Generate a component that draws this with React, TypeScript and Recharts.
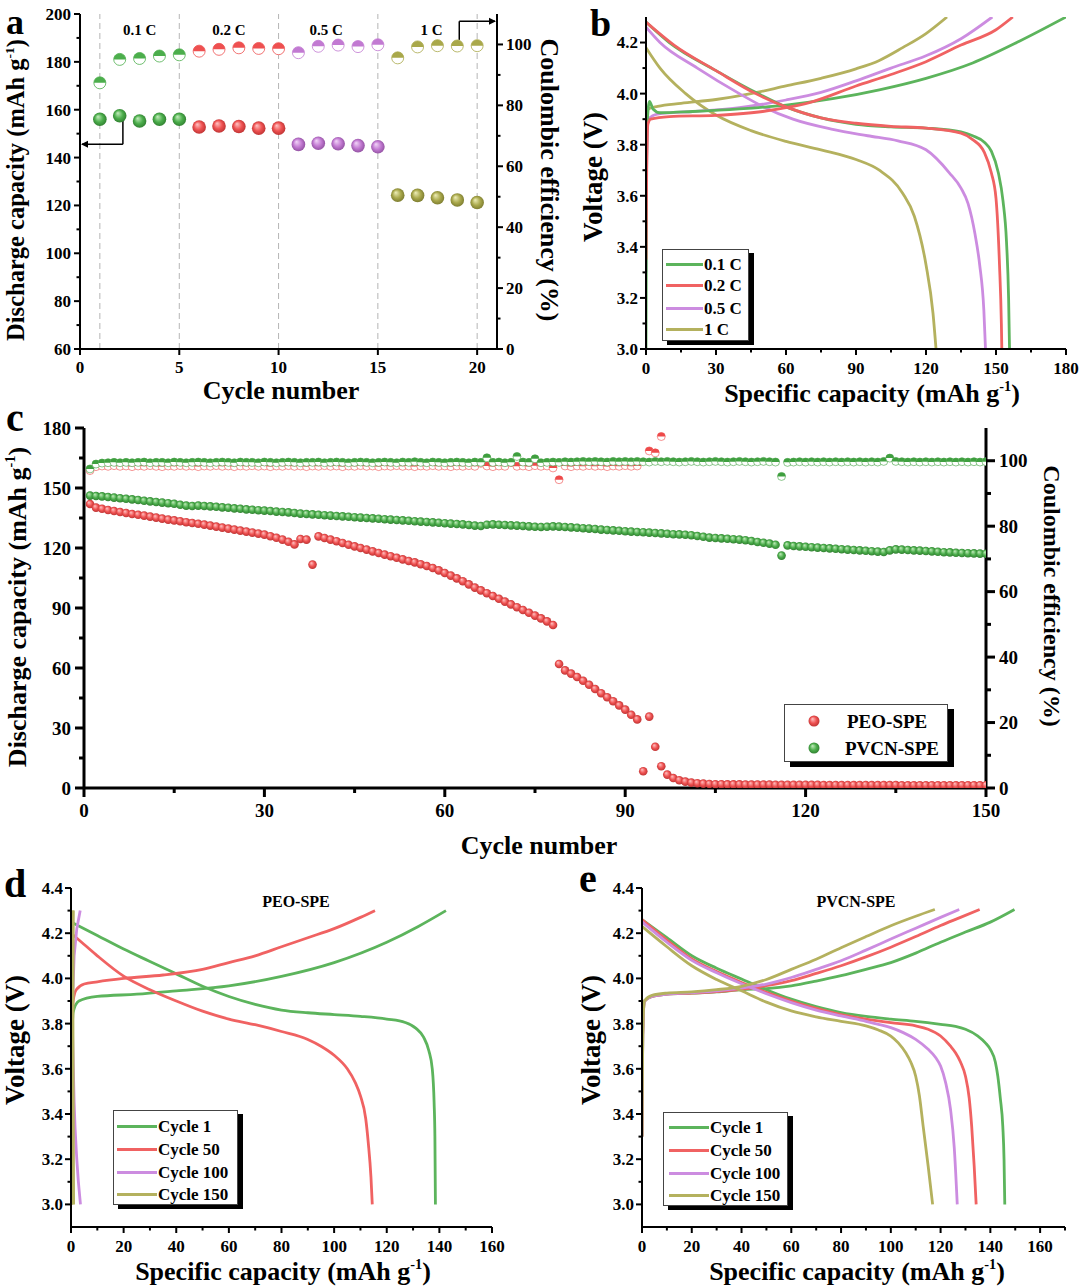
import React from 'react';
import { ScatterChart, LineChart, Line, Scatter, XAxis, YAxis, ReferenceLine, ReferenceDot } from 'recharts';

const FONT = "'Liberation Serif','Times New Roman',serif";

// ---------- Panel a data ----------
const A_CYCLES = [1, 2, 3, 4, 5, 6, 7, 8, 9, 10, 11, 12, 13, 14, 15, 16, 17, 18, 19, 20];
const A_CAP = [156, 157.5, 155.3, 156, 156, 152.8, 153.2, 153, 152.3, 152.3, 145.5, 146, 145.8, 145, 144.5, 124.3, 124.2, 123.2, 122.3, 121.2];
const A_CE = [87.4, 95.1, 95.4, 96.2, 96.6, 97.8, 98.4, 98.9, 98.7, 98.6, 97.3, 99.4, 99.8, 99.3, 99.9, 95.6, 99.2, 99.6, 99.5, 99.6];
const A_RATES = ['0.1 C', '0.2 C', '0.5 C', '1 C'];
const A_RATE_LABEL_X = [3, 7.5, 12.4, 17.7];
const A_DIVIDERS = [1, 5, 10, 15, 20];

// ---------- Panel b data (capacity, voltage) ----------
const B_LABELS = ['0.1 C', '0.2 C', '0.5 C', '1 C'];
const B_CHG_01 = [[0, 3.0], [0.2, 3.6], [0.5, 3.88], [1.5, 3.97], [3, 3.94], [6, 3.925], [20, 3.93], [40, 3.94], [60, 3.955], [80, 3.98], [100, 4.015], [120, 4.06], [140, 4.12], [160, 4.205], [180, 4.3]];
const B_DIS_01 = [[0, 4.28], [10, 4.2], [30, 4.09], [48, 4.0], [60, 3.948], [75, 3.905], [90, 3.88], [105, 3.87], [120, 3.865], [135, 3.85], [140, 3.835], [145, 3.81], [148, 3.775], [151, 3.69], [153, 3.58], [154.5, 3.42], [155.4, 3.2], [155.8, 3.0]];
const B_CHG_02 = [[0, 3.35], [0.3, 3.7], [0.8, 3.88], [2, 3.9], [10, 3.91], [30, 3.915], [50, 3.93], [60, 3.945], [70, 3.965], [90, 4.03], [105, 4.075], [120, 4.125], [135, 4.19], [150, 4.25], [157.2, 4.3]];
const B_DIS_02 = [[0, 4.28], [12, 4.19], [30, 4.09], [47, 4.0], [60, 3.948], [75, 3.905], [90, 3.884], [105, 3.872], [120, 3.865], [135, 3.845], [140, 3.82], [145, 3.77], [148, 3.69], [150, 3.59], [151.5, 3.33], [152.3, 3.1], [152.5, 3.0]];
const B_CHG_05 = [[0, 3.3], [0.3, 3.75], [1, 3.9], [5, 3.92], [20, 3.93], [40, 3.945], [60, 3.975], [75, 4.005], [90, 4.05], [105, 4.1], [120, 4.148], [135, 4.215], [148.4, 4.3]];
const B_DIS_05 = [[0, 4.26], [6, 4.2], [22, 4.1], [40, 4.0], [50, 3.95], [63, 3.9], [80, 3.86], [95, 3.835], [108, 3.815], [120, 3.78], [130, 3.69], [135, 3.63], [138, 3.57], [141, 3.45], [143, 3.33], [144.8, 3.15], [145.5, 3.0]];
const B_CHG_1 = [[0, 3.9], [1, 3.94], [5, 3.95], [15, 3.962], [30, 3.977], [45, 4.0], [60, 4.03], [75, 4.06], [90, 4.097], [100, 4.13], [110, 4.18], [120, 4.235], [129, 4.3]];
const B_DIS_1 = [[0, 4.18], [6, 4.1], [17, 4.0], [30, 3.916], [45, 3.855], [60, 3.813], [75, 3.78], [90, 3.742], [100, 3.7], [110, 3.61], [115, 3.52], [120, 3.33], [123, 3.14], [124.3, 3.0]];

// ---------- Panel c data (cycles 1..150) ----------
const C_PEO_CAP = [
  142.0, 140.2, 139.6, 139.0, 138.5, 138.0, 137.5, 137.0, 136.6, 136.2,
  135.7, 135.2, 134.7, 134.2, 133.8, 133.4, 132.9, 132.5, 132.1, 131.7,
  131.2, 130.7, 130.2, 129.7, 129.2, 128.7, 128.2, 127.7, 127.2, 126.7,
  125.9, 125.1, 124.2, 123.1, 121.8, 124.5, 124.2, 111.7, 125.8, 125.0,
  124.2, 123.4, 122.5, 121.6, 120.8, 120.0, 119.2, 118.3, 117.5, 116.7,
  115.9, 115.1, 114.3, 113.5, 112.8, 111.9, 111.0, 110.0, 108.8, 107.5,
  106.2, 104.8, 103.4, 101.8, 100.2, 98.8, 97.4, 96.0, 94.6, 93.2,
  91.8, 90.4, 89.0, 87.6, 86.2, 84.8, 83.3, 81.5, 62.0, 58.8,
  57.2, 55.5, 53.6, 51.6, 49.5, 47.4, 45.4, 43.4, 41.3, 39.2,
  36.6, 34.3, 8.4, 35.7, 20.6, 10.9, 6.7, 5.0, 3.9, 3.2,
  2.7, 2.4, 2.2, 2.0, 1.9, 1.9, 1.8, 1.8, 1.8, 1.7,
  1.7, 1.7, 1.7, 1.7, 1.6, 1.6, 1.6, 1.6, 1.6, 1.6,
  1.6, 1.6, 1.5, 1.5, 1.5, 1.5, 1.5, 1.5, 1.5, 1.5,
  1.5, 1.5, 1.5, 1.5, 1.5, 1.4, 1.4, 1.4, 1.4, 1.4,
  1.4, 1.4, 1.4, 1.4, 1.4, 1.4, 1.4, 1.4, 1.4, 1.4,
];
const C_PVCN_CAP = [
  146.2, 146.0, 145.8, 145.5, 145.2, 144.9, 144.6, 144.3, 144.0, 143.6,
  143.3, 143.0, 142.7, 142.4, 142.1, 141.6, 141.2, 141.0, 141.2, 141.0,
  140.8, 140.6, 140.3, 140.1, 139.8, 139.6, 139.3, 139.1, 138.9, 138.7,
  138.5, 138.2, 138.0, 137.8, 137.5, 137.2, 137.0, 136.8, 136.6, 136.4,
  136.2, 136.0, 135.8, 135.6, 135.4, 135.2, 135.0, 134.8, 134.6, 134.4,
  134.2, 134.0, 133.8, 133.6, 133.4, 133.2, 133.0, 132.8, 132.6, 132.4,
  132.2, 132.0, 131.8, 131.5, 131.2, 131.0, 131.6, 131.8, 131.6, 131.5,
  131.3, 131.2, 131.0, 130.8, 130.6, 130.5, 130.6, 130.8, 130.7, 130.5,
  130.3, 130.1, 129.9, 129.7, 129.5, 129.2, 129.0, 128.8, 128.6, 128.4,
  128.2, 128.0, 127.9, 127.7, 127.5, 127.3, 127.1, 126.9, 126.8, 126.6,
  126.4, 126.0, 125.6, 125.2, 125.0, 124.8, 124.6, 124.4, 124.2, 123.9,
  123.5, 123.0, 122.6, 122.2, 121.6, 116.2, 121.3, 121.0, 120.8, 120.6,
  120.4, 120.2, 120.0, 119.8, 119.6, 119.4, 119.2, 119.0, 118.8, 118.6,
  118.4, 118.2, 118.0, 118.8, 119.3, 119.2, 119.0, 118.8, 118.7, 118.5,
  118.3, 118.1, 117.9, 117.8, 117.6, 117.5, 117.4, 117.3, 117.2, 117.1,
];
const C_PVCN_CE = [
  97.5, 99.0, 99.3, 99.4, 99.5, 99.4, 99.5, 99.4, 99.5, 99.6,
  99.4, 99.5, 99.5, 99.4, 99.6, 99.5, 99.4, 99.5, 99.6, 99.5,
  99.4, 99.5, 99.6, 99.5, 99.4, 99.6, 99.5, 99.5, 99.4, 99.6,
  99.5, 99.4, 99.5, 99.6, 99.5, 99.4, 99.5, 99.5, 99.6, 99.4,
  99.5, 99.6, 99.5, 99.4, 99.5, 99.6, 99.5, 99.4, 99.5, 99.6,
  99.5, 99.4, 99.6, 99.5, 99.7, 99.5, 99.4, 99.6, 99.5, 99.4,
  99.5, 99.6, 99.5, 99.4, 99.6, 99.5, 100.9, 99.5, 99.6, 99.4,
  99.5, 101.3, 99.6, 99.5, 100.6, 99.4, 99.5, 99.6, 99.5, 99.7,
  99.6, 99.7, 99.8, 99.7, 99.8, 99.7, 99.6, 99.8, 99.7, 99.8,
  99.7, 99.8, 99.7, 99.6, 99.8, 99.7, 99.8, 99.7, 99.6, 99.7,
  99.8, 99.7, 99.6, 99.7, 99.8, 99.7, 99.6, 99.7, 99.8, 99.7,
  99.6, 99.7, 99.8, 99.7, 99.6, 95.2, 99.5, 99.6, 99.7, 99.6,
  99.7, 99.6, 99.7, 99.6, 99.7, 99.6, 99.7, 99.6, 99.7, 99.6,
  99.7, 99.6, 99.8, 100.8, 99.8, 99.7, 99.6, 99.7, 99.6, 99.7,
  99.6, 99.7, 99.6, 99.7, 99.6, 99.7, 99.6, 99.7, 99.6, 99.7,
];
const C_PEO_CE: (number | null)[] = [
  97.0, 98.2, 98.4, 98.3, 98.5, 98.3, 98.4, 98.2, 98.4, 98.3,
  98.5, 98.3, 98.2, 98.4, 98.3, 98.5, 98.3, 98.4, 98.2, 98.4,
  98.3, 98.5, 98.3, 98.4, 98.2, 98.4, 98.3, 98.5, 98.3, 98.4,
  98.2, 98.4, 98.3, 98.5, 98.3, 98.4, 98.2, 98.4, 98.3, 98.5,
  98.3, 98.4, 98.2, 98.4, 98.3, 98.5, 98.3, 98.4, 98.2, 98.4,
  98.3, 98.5, 98.3, 98.4, 98.2, 98.4, 98.3, 98.5, 98.3, 98.4,
  98.2, 98.4, 98.3, 98.5, 98.3, 99.2, 98.4, 98.2, 98.4, 98.3,
  99.4, 98.3, 98.4, 98.2, 98.5, 98.3, 98.4, 97.8, 94.2, 98.4,
  98.2, 98.4, 98.3, 98.5, 98.3, 98.4, 98.2, 98.4, 98.3, 98.5,
  98.3, 98.4, null, 103.0, 102.4, 107.4,
];
const C_SERIES = ['PEO-SPE', 'PVCN-SPE'];

// ---------- Panel d / e data ----------
const CYCLE_LABELS = ['Cycle 1', 'Cycle 50', 'Cycle 100', 'Cycle 150'];
const D_CHG_1 = [[0, 3.0], [0.3, 3.6], [0.8, 3.85], [3, 3.9], [10, 3.92], [25, 3.93], [40, 3.945], [60, 3.967], [80, 4.009], [100, 4.07], [120, 4.16], [132, 4.23], [142.5, 4.3]];
const D_DIS_1 = [[0, 4.25], [10, 4.19], [20, 4.13], [30, 4.075], [40, 4.02], [50, 3.965], [60, 3.92], [70, 3.885], [80, 3.86], [90, 3.848], [100, 3.84], [110, 3.832], [120, 3.82], [127, 3.805], [131, 3.78], [134, 3.74], [136, 3.68], [137.3, 3.6], [138, 3.45], [138.3, 3.3], [138.5, 3.0]];
const D_CHG_50 = [[0, 3.0], [0.3, 3.7], [0.8, 3.9], [2, 3.95], [5, 3.975], [10, 3.985], [20, 4.0], [35, 4.015], [50, 4.04], [60, 4.07], [70, 4.1], [80, 4.14], [90, 4.18], [100, 4.22], [110, 4.27], [115.5, 4.3]];
const D_DIS_50 = [[0, 4.2], [5, 4.15], [10, 4.1], [20, 4.01], [30, 3.95], [40, 3.9], [50, 3.855], [60, 3.82], [70, 3.795], [80, 3.765], [90, 3.73], [95, 3.7], [100, 3.66], [105, 3.6], [108, 3.54], [110, 3.48], [112, 3.38], [113, 3.27], [114, 3.12], [114.5, 3.0]];
const D_CHG_100 = [[0, 3.4], [0.6, 3.9], [1.2, 4.1], [2.2, 4.22], [3.5, 4.3]];
const D_DIS_100 = [[0, 4.2], [0.5, 3.8], [1.2, 3.45], [2.2, 3.2], [3.6, 3.0]];
const D_CHG_150 = [[0.4, 3.0], [0.6, 3.8], [0.9, 4.3]];
const D_DIS_150 = [[0.6, 4.3], [0.8, 3.6], [1.0, 3.0]];

const E_CHG_1 = [[0, 3.3], [0.3, 3.75], [1, 3.9], [4, 3.92], [10, 3.93], [20, 3.935], [30, 3.94], [40, 3.95], [50, 3.955], [60, 3.967], [70, 3.988], [80, 4.012], [90, 4.04], [100, 4.07], [110, 4.112], [120, 4.16], [130, 4.205], [140, 4.249], [149.7, 4.305]];
const E_CHG_50 = [[0, 3.3], [0.3, 3.75], [1, 3.9], [4, 3.92], [10, 3.93], [20, 3.935], [30, 3.942], [40, 3.952], [50, 3.968], [60, 3.99], [70, 4.022], [80, 4.056], [90, 4.095], [100, 4.138], [110, 4.185], [120, 4.234], [128, 4.27], [135.7, 4.305]];
const E_CHG_100 = [[0, 3.3], [0.3, 3.75], [1, 3.9], [4, 3.92], [10, 3.93], [20, 3.937], [30, 3.945], [40, 3.957], [50, 3.975], [60, 4.004], [70, 4.04], [80, 4.078], [90, 4.125], [100, 4.174], [110, 4.222], [120, 4.27], [127.5, 4.305]];
const E_CHG_150 = [[0, 3.3], [0.3, 3.75], [1, 3.9], [4, 3.925], [10, 3.935], [20, 3.94], [30, 3.95], [40, 3.965], [50, 3.995], [60, 4.04], [70, 4.085], [80, 4.136], [90, 4.185], [100, 4.233], [110, 4.275], [117.7, 4.305]];
const E_DIS_1 = [[0, 4.26], [10, 4.18], [20, 4.1], [30, 4.045], [40, 3.997], [50, 3.95], [60, 3.908], [70, 3.875], [80, 3.849], [90, 3.832], [100, 3.82], [110, 3.81], [120, 3.797], [126, 3.788], [130, 3.775], [135, 3.745], [138, 3.715], [140, 3.686], [142, 3.63], [143, 3.567], [144, 3.47], [145, 3.345], [145.5, 3.2], [145.8, 3.0]];
const E_DIS_50 = [[0, 4.26], [10, 4.17], [20, 4.086], [30, 4.03], [40, 3.982], [50, 3.938], [60, 3.9], [70, 3.867], [80, 3.84], [90, 3.82], [100, 3.804], [110, 3.79], [115, 3.775], [120, 3.745], [124, 3.7], [126, 3.671], [128, 3.63], [130, 3.567], [131.5, 3.47], [132.5, 3.345], [133.5, 3.17], [134.3, 3.0]];
const E_DIS_100 = [[0, 4.25], [10, 4.16], [20, 4.08], [30, 4.025], [40, 3.976], [50, 3.932], [60, 3.893], [70, 3.86], [80, 3.834], [90, 3.81], [95, 3.797], [100, 3.782], [105, 3.76], [110, 3.73], [115, 3.686], [118, 3.65], [120, 3.612], [122, 3.54], [124, 3.42], [125.5, 3.25], [126.7, 3.0]];
const E_DIS_150 = [[0, 4.23], [10, 4.14], [20, 4.056], [30, 3.995], [40, 3.945], [50, 3.895], [60, 3.856], [70, 3.83], [80, 3.81], [90, 3.79], [95, 3.772], [100, 3.745], [103, 3.715], [106, 3.671], [108, 3.63], [110, 3.567], [111.5, 3.48], [113, 3.345], [115, 3.17], [116.8, 3.0]];

// ---------- styling ----------
const LINE_COLORS = ['#5cb45c', '#f06262', '#cc8ce0', '#b4b15e'];
const SPHERE: Record<string, [string, string, string]> = {
  green: ['#c4ecbd', '#4cae4c', '#2d7a2d'],
  red: ['#ffc4c4', '#ef5252', '#b83030'],
  purple: ['#f2d6f8', '#c27ad2', '#8d4d9c'],
  olive: ['#eeeeb8', '#aaa94c', '#77772c'],
};
const A_KEYS = ['green', 'red', 'purple', 'olive'];
const A_FLAT = ['#4cae4c', '#ee5050', '#c27ad2', '#a9a84a'];

const pts = (arr: number[][]) => arr.map(([x, y]) => ({ x, y }));
const range = (a: number, b: number, s: number) => {
  const out: number[] = [];
  for (let i = 0; a + i * s <= b + 1e-9; i++) out.push(Math.round((a + i * s) * 1000) / 1000);
  return out;
};

type Orient = 'left' | 'right' | 'bottom';
function makeTick(orient: Orient, majors: number[], fontSize: number, fmt: (v: number) => string, sw: number, majorLen: number, minorLen: number, gap: number) {
  return (props: any) => {
    const { x, y, payload } = props;
    const v = Number(payload.value);
    const isMajor = majors.some((m) => Math.abs(m - v) < 1e-6);
    const len = isMajor ? majorLen : minorLen;
    const st: React.CSSProperties = { fontFamily: FONT, fontWeight: 700, fontSize, fill: '#000' };
    if (orient === 'left')
      return (
        <g>
          <line x1={x - len} x2={x} y1={y} y2={y} stroke="#000" strokeWidth={sw} />
          {isMajor && <text x={x - majorLen - gap} y={y} dy="0.35em" textAnchor="end" style={st}>{fmt(v)}</text>}
        </g>
      );
    if (orient === 'right')
      return (
        <g>
          <line x1={x} x2={x + len} y1={y} y2={y} stroke="#000" strokeWidth={sw} />
          {isMajor && <text x={x + majorLen + gap} y={y} dy="0.35em" textAnchor="start" style={st}>{fmt(v)}</text>}
        </g>
      );
    return (
      <g>
        <line x1={x} x2={x} y1={y} y2={y + len} stroke="#000" strokeWidth={sw} />
        {isMajor && <text x={x} y={y + majorLen + gap} dy="0.75em" textAnchor="middle" style={st}>{fmt(v)}</text>}
      </g>
    );
  };
}

const sphereShape = (key: string, r: number) => (p: any) => {
  const { cx, cy } = p;
  if (cx == null || cy == null) return <g />;
  return <circle cx={cx} cy={cy} r={r} fill={`url(#sph-${key})`} />;
};
const halfShape = (color: string, r: number, sw = 0.8) => (p: any) => {
  const { cx, cy } = p;
  if (cx == null || cy == null) return <g />;
  return (
    <g>
      <circle cx={cx} cy={cy} r={r} fill="#fff" stroke={color} strokeWidth={sw} />
      <path d={`M${cx - r},${cy} A${r},${r} 0 0 1 ${cx + r},${cy} Z`} fill={color} />
    </g>
  );
};

const fmtInt = (v: number) => String(Math.round(v));
const fmt1 = (v: number) => v.toFixed(1);

const txt = (size: number): React.CSSProperties => ({
  position: 'absolute', fontFamily: FONT, fontWeight: 700, fontSize: size, lineHeight: 1, whiteSpace: 'nowrap', color: '#000',
});
const Sup = ({ children }: { children: React.ReactNode }) => (
  <span style={{ fontSize: '0.55em', verticalAlign: '0.75em' }}>{children}</span>
);
function Title({ x, y, size, rot = 0, children }: { x: number; y: number; size: number; rot?: number; children: React.ReactNode }) {
  return (
    <div style={{ ...txt(size), left: x, top: y, transform: `translate(-50%,-50%) rotate(${rot}deg)` }}>{children}</div>
  );
}
function Letter({ x, y, size = 40, children }: { x: number; y: number; size?: number; children: React.ReactNode }) {
  return <div style={{ ...txt(size), left: x, top: y }}>{children}</div>;
}

function Gradients() {
  return (
    <svg width={0} height={0} style={{ position: 'absolute', left: 0, top: 0 }}>
      <defs>
        {Object.entries(SPHERE).map(([k, [l, b, d]]) => (
          <radialGradient key={k} id={`sph-${k}`} cx="50%" cy="50%" r="55%" fx="35%" fy="30%">
            <stop offset="0%" stopColor={l} />
            <stop offset="55%" stopColor={b} />
            <stop offset="100%" stopColor={d} />
          </radialGradient>
        ))}
      </defs>
    </svg>
  );
}

const AX2 = { stroke: '#000', strokeWidth: 2 };
const AX3 = { stroke: '#000', strokeWidth: 3 };

function PanelA() {
  const tickB = makeTick('bottom', [0, 5, 10, 15, 20], 17, fmtInt, 2, 6, 3, 5);
  const tickL = makeTick('left', range(60, 200, 20), 17, fmtInt, 2, 6, 3.5, 3);
  const tickR = makeTick('right', range(0, 100, 20), 17, fmtInt, 2, 6, 3.5, 3);
  const arrowL = (p: any) => <polygon points={`${p.cx},${p.cy} ${p.cx + 7},${p.cy - 3.5} ${p.cx + 7},${p.cy + 3.5}`} fill="#000" />;
  const arrowR = (p: any) => <polygon points={`${p.cx},${p.cy} ${p.cx - 7},${p.cy - 3.5} ${p.cx - 7},${p.cy + 3.5}`} fill="#000" />;
  return (
    <div style={{ position: 'absolute', left: 0, top: 0 }}>
      <ScatterChart width={560} height={410} margin={{ top: 14, right: 23, bottom: 31, left: 0 }}>
        <XAxis xAxisId="b" type="number" dataKey="x" domain={[0, 21]} ticks={[0, 5, 10, 15, 20]} interval={0} tickSize={0} tickMargin={0} tickLine={false} axisLine={AX2} tick={tickB} height={30} allowDataOverflow />
        <XAxis xAxisId="t" orientation="top" type="number" dataKey="x" domain={[0, 21]} height={0} tick={false} tickLine={false} axisLine={AX2} />
        <YAxis yAxisId="l" type="number" dataKey="y" domain={[60, 200]} ticks={range(60, 200, 10)} interval={0} tickSize={0} tickMargin={0} tickLine={false} axisLine={AX2} tick={tickL} width={80} allowDataOverflow />
        <YAxis yAxisId="r" orientation="right" type="number" dataKey="y" domain={[0, 110]} ticks={range(0, 100, 10)} interval={0} tickSize={0} tickMargin={0} tickLine={false} axisLine={AX2} tick={tickR} width={40} allowDataOverflow />
        {A_DIVIDERS.map((d) => (
          <ReferenceLine key={d} xAxisId="b" yAxisId="l" x={d} stroke="#b5b5b5" strokeWidth={1} strokeDasharray="6 4" />
        ))}
        {A_RATES.map((r, i) => (
          <ReferenceDot key={r} xAxisId="b" yAxisId="l" x={A_RATE_LABEL_X[i]} y={193.3} r={0}
            shape={(p: any) => <text x={p.cx} y={p.cy} dy="0.35em" textAnchor="middle" style={{ fontFamily: FONT, fontWeight: 700, fontSize: 15 }}>{r}</text>} />
        ))}
        <ReferenceLine xAxisId="b" yAxisId="l" segment={[{ x: 2.16, y: 155.3 }, { x: 2.16, y: 145.6 }]} stroke="#000" strokeWidth={1.5} />
        <ReferenceLine xAxisId="b" yAxisId="l" segment={[{ x: 2.16, y: 145.6 }, { x: 0.1, y: 145.6 }]} stroke="#000" strokeWidth={1.5} />
        <ReferenceDot xAxisId="b" yAxisId="l" x={0.05} y={145.6} r={0} shape={arrowL} />
        <ReferenceLine xAxisId="b" yAxisId="r" segment={[{ x: 19.1, y: 101.5 }, { x: 19.1, y: 107.6 }]} stroke="#000" strokeWidth={1.5} />
        <ReferenceLine xAxisId="b" yAxisId="r" segment={[{ x: 19.1, y: 107.6 }, { x: 20.9, y: 107.6 }]} stroke="#000" strokeWidth={1.5} />
        <ReferenceDot xAxisId="b" yAxisId="r" x={20.95} y={107.6} r={0} shape={arrowR} />
        {A_RATES.map((r, gi) => (
          <Scatter key={'ce' + r} xAxisId="b" yAxisId="r" isAnimationActive={false}
            data={A_CYCLES.slice(gi * 5, gi * 5 + 5).map((c, i) => ({ x: c, y: A_CE[gi * 5 + i] }))}
            shape={halfShape(A_FLAT[gi], 6, 0.8)} />
        ))}
        {A_RATES.map((r, gi) => (
          <Scatter key={'cap' + r} xAxisId="b" yAxisId="l" isAnimationActive={false}
            data={A_CYCLES.slice(gi * 5, gi * 5 + 5).map((c, i) => ({ x: c, y: A_CAP[gi * 5 + i] }))}
            shape={sphereShape(A_KEYS[gi], 6.8)} />
        ))}
      </ScatterChart>
    </div>
  );
}

function VoltagePanel(props: {
  left: number; top: number; width: number; height: number; margin: any; yWidth: number;
  xMax: number; xTicks: number[]; xMajors: number[]; yMin: number; yMax: number; yTicks: number[]; yMajors: number[];
  curves: { color: string; data: number[][]; linear?: boolean }[]; note?: { x: number; y: number; text: string };
}) {
  const tickB = makeTick('bottom', props.xMajors, 17, fmtInt, 2, 6, 3.5, 6);
  const tickL = makeTick('left', props.yMajors, 17, fmt1, 2, 6, 3.5, 2);
  return (
    <div style={{ position: 'absolute', left: props.left, top: props.top }}>
      <LineChart width={props.width} height={props.height} margin={props.margin}>
        <XAxis type="number" dataKey="x" domain={[0, props.xMax]} ticks={props.xTicks} interval={0} tickSize={0} tickMargin={0} tickLine={false} axisLine={AX2} tick={tickB} height={30} allowDataOverflow />
        <XAxis xAxisId="t" orientation="top" type="number" dataKey="x" domain={[0, props.xMax]} height={0} tick={false} tickLine={false} axisLine={AX2} />
        <YAxis type="number" dataKey="y" domain={[props.yMin, props.yMax]} ticks={props.yTicks} interval={0} tickSize={0} tickMargin={0} tickLine={false} axisLine={AX2} tick={tickL} width={props.yWidth} allowDataOverflow />
        <YAxis yAxisId="r" orientation="right" type="number" domain={[props.yMin, props.yMax]} width={0} tick={false} tickLine={false} axisLine={AX2} />
        {props.note && (
          <ReferenceDot x={props.note.x} y={props.note.y} r={0}
            shape={(p: any) => <text x={p.cx} y={p.cy} dy="0.35em" textAnchor="middle" style={{ fontFamily: FONT, fontWeight: 700, fontSize: 16 }}>{props.note!.text}</text>} />
        )}
        {props.curves.map((c, i) => (
          <Line key={i} data={pts(c.data)} dataKey="y" type={c.linear ? 'linear' : 'monotone'} stroke={c.color} strokeWidth={2.8} dot={false} isAnimationActive={false} />
        ))}
      </LineChart>
    </div>
  );
}

function PanelC() {
  const tickB = makeTick('bottom', range(0, 150, 30), 19, fmtInt, 3, 9, 5, 6);
  const tickL = makeTick('left', range(0, 180, 30), 19, fmtInt, 3, 9, 5, 4);
  const tickR = makeTick('right', range(0, 100, 20), 19, fmtInt, 3, 9, 5, 4);
  const peoCE = C_PEO_CE.map((v, i) => ({ x: i + 1, y: v })).filter((d) => d.y != null);
  const pvcnCE = C_PVCN_CE.map((v, i) => ({ x: i + 1, y: v }));
  const peoCap = C_PEO_CAP.map((v, i) => ({ x: i + 1, y: v }));
  const pvcnCap = C_PVCN_CAP.map((v, i) => ({ x: i + 1, y: v }));
  return (
    <div style={{ position: 'absolute', left: 0, top: 410 }}>
      <ScatterChart width={1080} height={450} margin={{ top: 18, right: 44, bottom: 42, left: 0 }}>
        <XAxis xAxisId="b" type="number" dataKey="x" domain={[0, 150]} ticks={range(0, 150, 15)} interval={0} tickSize={0} tickMargin={0} tickLine={false} axisLine={AX3} tick={tickB} height={30} allowDataOverflow />
        <XAxis xAxisId="t" orientation="top" type="number" dataKey="x" domain={[0, 150]} height={0} tick={false} tickLine={false} axisLine={AX3} />
        <YAxis yAxisId="l" type="number" dataKey="y" domain={[0, 180]} ticks={range(0, 180, 15)} interval={0} tickSize={0} tickMargin={0} tickLine={false} axisLine={AX3} tick={tickL} width={84} allowDataOverflow />
        <YAxis yAxisId="r" orientation="right" type="number" dataKey="y" domain={[0, 110]} ticks={range(0, 100, 10)} interval={0} tickSize={0} tickMargin={0} tickLine={false} axisLine={AX3} tick={tickR} width={50} allowDataOverflow />
        <Scatter name={C_SERIES[0] + ' CE'} xAxisId="b" yAxisId="r" data={peoCE} isAnimationActive={false} shape={halfShape('#ee4a4a', 4, 0.6)} />
        <Scatter name={C_SERIES[1] + ' CE'} xAxisId="b" yAxisId="r" data={pvcnCE} isAnimationActive={false} shape={halfShape('#3f9f3f', 4, 0.6)} />
        <Scatter name={C_SERIES[1]} xAxisId="b" yAxisId="l" data={pvcnCap} isAnimationActive={false} shape={sphereShape('green', 4.3)} />
        <Scatter name={C_SERIES[0]} xAxisId="b" yAxisId="l" data={peoCap} isAnimationActive={false} shape={sphereShape('red', 4.3)} />
      </ScatterChart>
    </div>
  );
}

function LineLegend({ left, top, w, h, rows, labels, lineX, lineW, textX, size }: { left: number; top: number; w: number; h: number; rows: number[]; labels: string[]; lineX: number; lineW: number; textX: number; size: number }) {
  return (
    <div style={{ position: 'absolute', left, top, width: w, height: h, border: '1px solid #444', background: '#fff', boxShadow: '5px 4px 0 0 #000' }}>
      {labels.map((l, i) => (
        <React.Fragment key={l}>
          <div style={{ position: 'absolute', left: lineX, top: rows[i] - 1.5, width: lineW, height: 3, background: LINE_COLORS[i] }} />
          <div style={{ ...txt(size), left: textX, top: rows[i] - size / 2 }}>{l}</div>
        </React.Fragment>
      ))}
    </div>
  );
}

export default function App() {
  const bCurves = [
    { color: LINE_COLORS[3], data: B_CHG_1 }, { color: LINE_COLORS[3], data: B_DIS_1 },
    { color: LINE_COLORS[2], data: B_CHG_05 }, { color: LINE_COLORS[2], data: B_DIS_05 },
    { color: LINE_COLORS[0], data: B_CHG_01 }, { color: LINE_COLORS[0], data: B_DIS_01 },
    { color: LINE_COLORS[1], data: B_CHG_02 }, { color: LINE_COLORS[1], data: B_DIS_02 },
  ];
  const dCurves = [
    { color: LINE_COLORS[0], data: D_CHG_1 }, { color: LINE_COLORS[0], data: D_DIS_1 },
    { color: LINE_COLORS[1], data: D_CHG_50 }, { color: LINE_COLORS[1], data: D_DIS_50 },
    { color: LINE_COLORS[2], data: D_CHG_100, linear: true }, { color: LINE_COLORS[2], data: D_DIS_100 },
    { color: LINE_COLORS[3], data: D_CHG_150, linear: true }, { color: LINE_COLORS[3], data: D_DIS_150, linear: true },
  ];
  const eCurves = [
    { color: LINE_COLORS[0], data: E_CHG_1 }, { color: LINE_COLORS[0], data: E_DIS_1 },
    { color: LINE_COLORS[1], data: E_CHG_50 }, { color: LINE_COLORS[1], data: E_DIS_50 },
    { color: LINE_COLORS[2], data: E_CHG_100 }, { color: LINE_COLORS[2], data: E_DIS_100 },
    { color: LINE_COLORS[3], data: E_CHG_150 }, { color: LINE_COLORS[3], data: E_DIS_150 },
  ];
  const capTitle = (<>Specific capacity (mAh g<Sup>-1</Sup>)</>);
  const dcTitle = (<>Discharge capacity (mAh g<Sup>-1</Sup>)</>);
  return (
    <div style={{ position: 'absolute', left: 0, top: 0, width: 1080, height: 1286, background: '#fff', overflow: 'hidden' }}>
      <Gradients />
      <PanelA />
      <VoltagePanel left={560} top={0} width={520} height={410} margin={{ top: 17, right: 14, bottom: 31, left: 0 }} yWidth={86}
        xMax={180} xTicks={range(0, 180, 15)} xMajors={range(0, 180, 30)} yMin={3.0} yMax={4.3} yTicks={range(3.0, 4.2, 0.1)} yMajors={range(3.0, 4.2, 0.2)} curves={bCurves} />
      <PanelC />
      <VoltagePanel left={0} top={860} width={540} height={426} margin={{ top: 28, right: 48, bottom: 29, left: 0 }} yWidth={71}
        xMax={160} xTicks={range(0, 160, 10)} xMajors={range(0, 160, 20)} yMin={2.9} yMax={4.4} yTicks={range(3.0, 4.4, 0.1)} yMajors={range(3.0, 4.4, 0.2)} curves={dCurves}
        note={{ x: 85.5, y: 4.342, text: 'PEO-SPE' }} />
      <VoltagePanel left={540} top={860} width={540} height={426} margin={{ top: 28, right: 15, bottom: 29, left: 0 }} yWidth={102}
        xMax={170} xTicks={range(0, 170, 10)} xMajors={range(0, 160, 20)} yMin={2.9} yMax={4.4} yTicks={range(3.0, 4.4, 0.1)} yMajors={range(3.0, 4.4, 0.2)} curves={eCurves}
        note={{ x: 86, y: 4.342, text: 'PVCN-SPE' }} />

      {/* panel letters */}
      <Letter x={6} y={4} size={36}>a</Letter>
      <Letter x={590} y={4} size={38}>b</Letter>
      <Letter x={6} y={398}>c</Letter>
      <Letter x={4} y={864}>d</Letter>
      <Letter x={579} y={859}>e</Letter>

      {/* axis titles */}
      <Title x={16} y={190} size={24.5} rot={-90}>{dcTitle}</Title>
      <Title x={549} y={180} size={26} rot={90}>Coulombic efficiency (%)</Title>
      <Title x={281} y={391} size={26}>Cycle number</Title>
      <Title x={593} y={177} size={27} rot={-90}>Voltage (V)</Title>
      <Title x={872} y={393} size={26}>{capTitle}</Title>
      <Title x={17} y={607} size={26} rot={-90}>{dcTitle}</Title>
      <Title x={1052} y={596} size={24} rot={90}>Coulombic efficiency (%)</Title>
      <Title x={539} y={846} size={26}>Cycle number</Title>
      <Title x={15} y={1040} size={27} rot={-90}>Voltage (V)</Title>
      <Title x={283} y={1271} size={26}>{capTitle}</Title>
      <Title x={591} y={1040} size={27} rot={-90}>Voltage (V)</Title>
      <Title x={857} y={1271} size={26}>{capTitle}</Title>

      {/* legends */}
      <LineLegend left={662} top={249} w={85} h={90} rows={[14, 35, 58, 79]} labels={B_LABELS} lineX={3} lineW={37} textX={41} size={17} />
      <LineLegend left={113} top={1110} w={123} h={93} rows={[15, 38, 61, 83]} labels={CYCLE_LABELS} lineX={3} lineW={40} textX={44} size={17} />
      <LineLegend left={663} top={1112} w={123} h={92} rows={[14, 37, 60, 82]} labels={CYCLE_LABELS} lineX={5} lineW={40} textX={46} size={17} />
      <div style={{ position: 'absolute', left: 784, top: 704, width: 162, height: 56, border: '1px solid #444', background: '#fff', boxShadow: '6px 5px 0 0 #000' }}>
        {C_SERIES.map((s, i) => (
          <React.Fragment key={s}>
            <svg width={14} height={14} style={{ position: 'absolute', left: 22, top: 9 + i * 27 }}>
              <circle cx={7} cy={7} r={5.5} fill={`url(#sph-${i === 0 ? 'red' : 'green'})`} />
            </svg>
            <div style={{ ...txt(19), left: i === 0 ? 62 : 60, top: 7 + i * 27 }}>{s}</div>
          </React.Fragment>
        ))}
      </div>
    </div>
  );
}
